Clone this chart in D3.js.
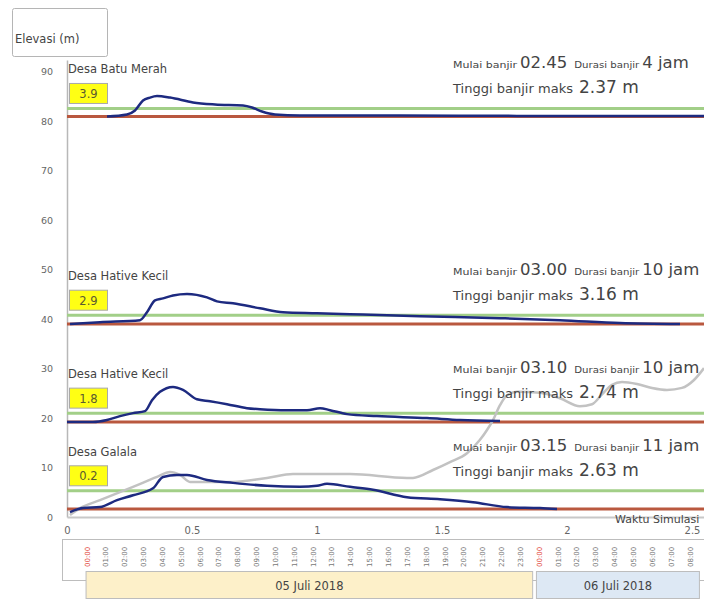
<!DOCTYPE html>
<html lang="id">
<head>
    <meta charset="UTF-8"/>
    <title>Elevasi banjir</title>
    <script src="https://d3js.org/d3.v7.min.js"></script>
    <style>
        body { margin: 0; background: #fff; }
        svg { display: block; font-family: "DejaVu Sans", Verdana, sans-serif; }
    </style>
</head>
<body>
<script>
    var w = 704;
    var h = 600;

    // data
    var villages = ["Desa Batu Merah", "Desa Hative Kecil", "Desa Hative Kecil", "Desa Galala"];
    var boxValues = ["3.9", "2.9", "1.8", "0.2"];
    var groundElev = [81.0, 39.0, 19.2, 1.6];
    var floodElev = [82.6, 40.8, 21.0, 5.3];
    var startTime = ["02.45", "03.00", "03.10", "03.15"];
    var duration = ["4 jam", "10 jam", "10 jam", "11 jam"];
    var maxDepth = ["2.37 m", "3.16 m", "2.74 m", "2.63 m"];

    var waterBatuMerah = [
        [0.16, 81.0], [0.24, 81.4], [0.272, 82.2], [0.304, 84.2], [0.332, 84.8],
        [0.36, 85.1], [0.412, 84.8], [0.504, 83.8], [0.592, 83.4], [0.704, 83.2],
        [0.74, 82.8], [0.78, 82.0], [0.832, 81.4], [0.932, 81.2], [1.332, 81.2],
        [1.8, 81.1], [2.55, 81.1]
    ];
    var waterHative1 = [
        [0.012, 39.0], [0.132, 39.4], [0.292, 39.8], [0.32, 41.4], [0.352, 43.8],
        [0.384, 44.2], [0.424, 44.8], [0.48, 45.1], [0.56, 44.4], [0.6, 43.6],
        [0.664, 43.2], [0.772, 42.2], [0.864, 41.4], [1.0, 41.2], [1.132, 41.0],
        [1.412, 40.6], [1.732, 40.2], [1.972, 39.8], [2.212, 39.2], [2.452, 39.0]
    ];
    var waterHative2 = [
        [0.0, 19.2], [0.104, 19.2], [0.16, 19.6], [0.212, 20.4], [0.264, 21.0],
        [0.312, 21.4], [0.34, 23.6], [0.372, 25.3], [0.424, 26.3], [0.464, 25.7],
        [0.52, 23.8], [0.572, 23.4], [0.64, 22.8], [0.72, 22.0], [0.772, 21.8],
        [0.88, 21.6], [0.96, 21.6], [1.012, 22.0], [1.052, 21.6], [1.12, 20.8],
        [1.24, 20.4], [1.44, 20.0], [1.572, 19.6], [1.732, 19.4]
    ];
    var waterGalala = [
        [0.012, 1.0], [0.064, 1.8], [0.132, 2.0], [0.2, 3.4], [0.264, 4.4],
        [0.344, 5.8], [0.384, 8.1], [0.44, 8.5], [0.48, 8.5], [0.56, 7.5],
        [0.664, 6.9], [0.8, 6.3], [0.932, 6.1], [1.0, 6.3], [1.04, 6.7],
        [1.132, 6.1], [1.224, 5.5], [1.36, 4.0], [1.492, 3.6], [1.624, 3.0],
        [1.76, 2.0], [1.892, 1.8], [1.96, 1.6]
    ];
    var riverGalala = [
        [0.012, 0.4], [0.052, 1.8], [0.132, 3.4], [0.264, 6.1], [0.36, 8.1],
        [0.412, 9.1], [0.452, 8.5], [0.492, 7.1], [0.56, 7.1], [0.664, 7.1],
        [0.8, 7.9], [0.904, 8.7], [1.0, 8.7], [1.132, 8.7], [1.36, 7.9],
        [1.384, 7.9], [1.464, 9.5], [1.532, 11.1], [1.6, 12.9], [1.652, 15.6],
        [1.68, 17.6], [1.704, 19.6], [1.732, 22.6], [1.76, 24.6], [1.8, 25.3],
        [1.892, 25.1], [1.972, 24.0], [2.052, 22.4], [2.1, 22.8], [2.14, 24.8],
        [2.18, 26.7], [2.22, 27.3], [2.28, 26.9], [2.34, 26.1], [2.4, 25.7],
        [2.46, 26.1], [2.508, 27.7], [2.548, 30.1]
    ];
    var waterSeries = [waterBatuMerah, waterHative1, waterHative2, waterGalala];

    var xTicks = [0, 0.5, 1, 1.5, 2, 2.5];
    var yTicks = [0, 10, 20, 30, 40, 50, 60, 70, 80, 90];

    var hourLabels = ["00:00", "01:00", "02:00", "03:00", "04:00", "05:00", "06:00", "07:00",
                      "08:00", "09:00", "10:00", "11:00", "12:00", "13:00", "14:00", "15:00",
                      "16:00", "17:00", "18:00", "19:00", "20:00", "21:00", "22:00", "23:00",
                      "00:00", "01:00", "02:00", "03:00", "04:00", "05:00", "06:00", "07:00",
                      "08:00"];
    var dayLabels = ["05 Juli 2018", "06 Juli 2018"];
    var dayStart = [-0.05, 23.85];
    var dayEnd = [23.65, 32.5];
    var dayColors = ["#fdf0c9", "#dde8f4"];

    var xScale = d3.scaleLinear().domain([0, 2.55]).range([67, 704.5]);
    var yScale = d3.scaleLinear().domain([0, 92.4]).range([517, 60]);
    var hourScale = d3.scaleLinear().domain([0, 32]).range([87, 690]);

    var svg = d3.select("body")
                .append("svg")
                .attr("width", w)
                .attr("height", h);

    // y label box
    svg.append("rect")
       .attr("x", 12.5).attr("y", 8.5)
       .attr("width", 95).attr("height", 48)
       .attr("rx", 2)
       .attr("fill", "#fff")
       .attr("stroke", "#b5b5b5");
    svg.append("text")
       .attr("x", 15).attr("y", 43)
       .attr("font-size", "11.5px")
       .attr("fill", "#444")
       .text("Elevasi (m)");

    // axes
    var yAxis = d3.axisLeft(yScale).tickValues(yTicks).tickSize(0).tickPadding(14);
    var gy = svg.append("g")
                .attr("transform", "translate(" + xScale(0) + ",0)")
                .call(yAxis);
    gy.select(".domain").attr("stroke", "#b8b8b8").attr("stroke-width", 1.5);
    gy.selectAll("text").attr("fill", "#666").attr("font-size", "9.5px")
      .attr("font-family", "DejaVu Sans, sans-serif");

    var xAxis = d3.axisBottom(xScale).tickValues(xTicks).tickSize(0).tickPadding(10)
                  .tickFormat(d3.format(""));
    var gx = svg.append("g")
                .attr("transform", "translate(0," + yScale(0) + ")")
                .call(xAxis);
    gx.select(".domain").attr("stroke", "#c8c8c8").attr("stroke-width", 2);
    gx.selectAll("text").attr("fill", "#666").attr("font-size", "10px")
      .attr("font-family", "DejaVu Sans, sans-serif");

    svg.append("text")
       .attr("x", 615).attr("y", 523)
       .attr("font-size", "11px")
       .attr("fill", "#444")
       .text("Waktu Simulasi");

    var line = d3.line()
                 .x(function(d) { return xScale(d[0]); })
                 .y(function(d) { return yScale(d[1]); })
                 .curve(d3.curveMonotoneX);

    // ground and flood level lines
    svg.selectAll("line.ground")
       .data(groundElev)
       .enter()
       .append("line")
       .attr("class", "ground")
       .attr("x1", xScale(0)).attr("x2", w)
       .attr("y1", function(d) { return yScale(d); })
       .attr("y2", function(d) { return yScale(d); })
       .attr("stroke", "#b9583f")
       .attr("stroke-width", 3);

    svg.selectAll("line.flood")
       .data(floodElev)
       .enter()
       .append("line")
       .attr("class", "flood")
       .attr("x1", xScale(0)).attr("x2", w)
       .attr("y1", function(d) { return yScale(d); })
       .attr("y2", function(d) { return yScale(d); })
       .attr("stroke", "#a2cf88")
       .attr("stroke-width", 3);

    svg.append("path")
       .datum(riverGalala)
       .attr("d", line)
       .attr("fill", "none")
       .attr("stroke", "#c2c2c2")
       .attr("stroke-width", 2.5);

    svg.selectAll("path.water")
       .data(waterSeries)
       .enter()
       .append("path")
       .attr("class", "water")
       .attr("d", line)
       .attr("fill", "none")
       .attr("stroke", "#1d2a80")
       .attr("stroke-width", 2.5);

    // village labels
    villages.forEach(function(name, i) {
        var yf = yScale(floodElev[i]);

        svg.append("text")
           .attr("x", 68).attr("y", yf - 35)
           .attr("font-size", "11.5px")
           .attr("fill", "#444")
           .text(name);

        svg.append("rect")
           .attr("x", 69.5).attr("y", yf - 25)
           .attr("width", 38).attr("height", 20)
           .attr("fill", "#ffff14")
           .attr("stroke", "#a9a9a9");
        svg.append("text")
           .attr("x", 88.5).attr("y", yf - 10.5)
           .attr("text-anchor", "middle")
           .attr("font-size", "11.5px")
           .attr("fill", "#5a5a30")
           .text(boxValues[i]);

        var t1 = svg.append("text")
                    .attr("x", 453).attr("y", yf - 40)
                    .attr("fill", "#444");
        t1.append("tspan").attr("font-size", "9px")
          .attr("textLength", 64).attr("lengthAdjust", "spacingAndGlyphs")
          .text("Mulai banjir");
        t1.append("tspan").attr("dx", 3).attr("font-size", "16.5px").text(startTime[i]);
        t1.append("tspan").attr("dx", 7).attr("font-size", "9px")
          .attr("textLength", 65).attr("lengthAdjust", "spacingAndGlyphs")
          .text("Durasi banjir");
        t1.append("tspan").attr("dx", 3).attr("font-size", "16.5px").text(duration[i]);

        var t2 = svg.append("text")
                    .attr("x", 453).attr("y", yf - 15)
                    .attr("fill", "#444");
        t2.append("tspan").attr("font-size", "11.5px")
          .attr("textLength", 120).attr("lengthAdjust", "spacingAndGlyphs")
          .text("Tinggi banjir maks");
        t2.append("tspan").attr("dx", 6).attr("font-size", "17px").text(maxDepth[i]);
    });

    // hour strip
    svg.append("rect")
       .attr("x", 62.5).attr("y", 539.5)
       .attr("width", 660).attr("height", 41)
       .attr("fill", "#fff")
       .attr("stroke", "#bdbdbd");

    svg.selectAll("rect.day")
       .data(dayLabels)
       .enter()
       .append("rect")
       .attr("class", "day")
       .attr("x", function(d, i) { return hourScale(dayStart[i]); })
       .attr("y", 571.5)
       .attr("width", function(d, i) { return hourScale(dayEnd[i]) - hourScale(dayStart[i]); })
       .attr("height", 27)
       .attr("fill", function(d, i) { return dayColors[i]; })
       .attr("stroke", "#bdbdbd");

    svg.selectAll("text.day")
       .data(dayLabels)
       .enter()
       .append("text")
       .attr("class", "day")
       .attr("x", function(d, i) { return (hourScale(dayStart[i]) + hourScale(dayEnd[i])) / 2; })
       .attr("y", 590)
       .attr("text-anchor", "middle")
       .attr("font-size", "11.5px")
       .attr("fill", "#444")
       .text(function(d) { return d; });

    svg.selectAll("text.hour")
       .data(hourLabels)
       .enter()
       .append("text")
       .attr("class", "hour")
       .attr("transform", function(d, i) {
           return "translate(" + (hourScale(i) + 2.5) + ",567) rotate(-90)";
       })
       .attr("font-size", "7px")
       .attr("fill", function(d) { return d === "00:00" ? "#e2463c" : "#777"; })
       .text(function(d) { return d; });
</script>
</body>
</html>
